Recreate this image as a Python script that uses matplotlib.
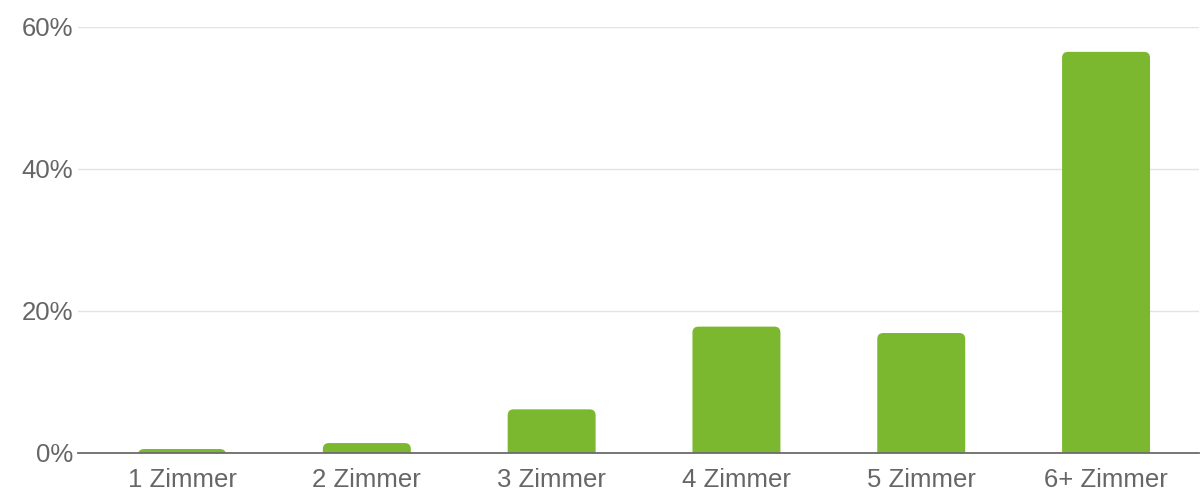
import matplotlib
matplotlib.use("Agg")
import matplotlib.pyplot as plt
from matplotlib.patches import FancyBboxPatch

categories = ["1 Zimmer", "2 Zimmer", "3 Zimmer", "4 Zimmer", "5 Zimmer", "6+ Zimmer"]
values = [0.56, 1.4, 6.15, 17.8, 16.9, 56.5]
yticks = [0, 20, 40, 60]
ytick_labels = ["0%", "20%", "40%", "60%"]

BAR = "#7cb82f"
TXT = "#666666"

fig = plt.figure(figsize=(12.01, 4.92), dpi=100)
ax = fig.add_axes([78/1201, 39/492, (1199-78)/1201, 426/492])
plt.rcParams['font.family'] = ['Liberation Sans', 'DejaVu Sans']

x = list(range(len(categories)))
bars = ax.bar(x, values, width=0.476, color=BAR)
ax.set_xlim(-0.563, 5.503)
ax.set_ylim(0, 60)

# replace bars with rounded versions
px_x = (1199-78) / (5.503 + 0.563)
px_y = 426 / 60
r_px = 6
rx = r_px / px_x
ry = r_px / px_y
for b in bars:
    b.set_visible(False)
    bx, bw, bh = b.get_x(), b.get_width(), b.get_height()
    p = FancyBboxPatch((bx, -1.0), bw, bh + 1.0,
                       boxstyle=f"round,pad=0,rounding_size={rx}",
                       mutation_aspect=ry / rx,
                       facecolor=BAR, edgecolor="none", zorder=2)
    ax.add_patch(p)

ax.set_yticks(yticks)
ax.set_yticklabels(ytick_labels, fontfamily='Liberation Sans')
ax.set_xticks(x)
ax.set_xticklabels(categories, fontfamily='Liberation Sans')
ax.tick_params(axis='y', length=0, pad=3.6, labelsize=18.5, labelcolor=TXT)
ax.tick_params(axis='x', length=0, pad=10.8, labelsize=18.5, labelcolor=TXT)

ax.grid(axis='y', color="#e3e3e3", linewidth=1.0, zorder=0)
ax.set_axisbelow(True)
for s in ["top", "right", "left"]:
    ax.spines[s].set_visible(False)
ax.spines["bottom"].set_color("#6b6b6b")
ax.spines["bottom"].set_linewidth(1.3)
ax.spines["bottom"].set_zorder(3)

fig.savefig("out.png", dpi=100, facecolor="white")
